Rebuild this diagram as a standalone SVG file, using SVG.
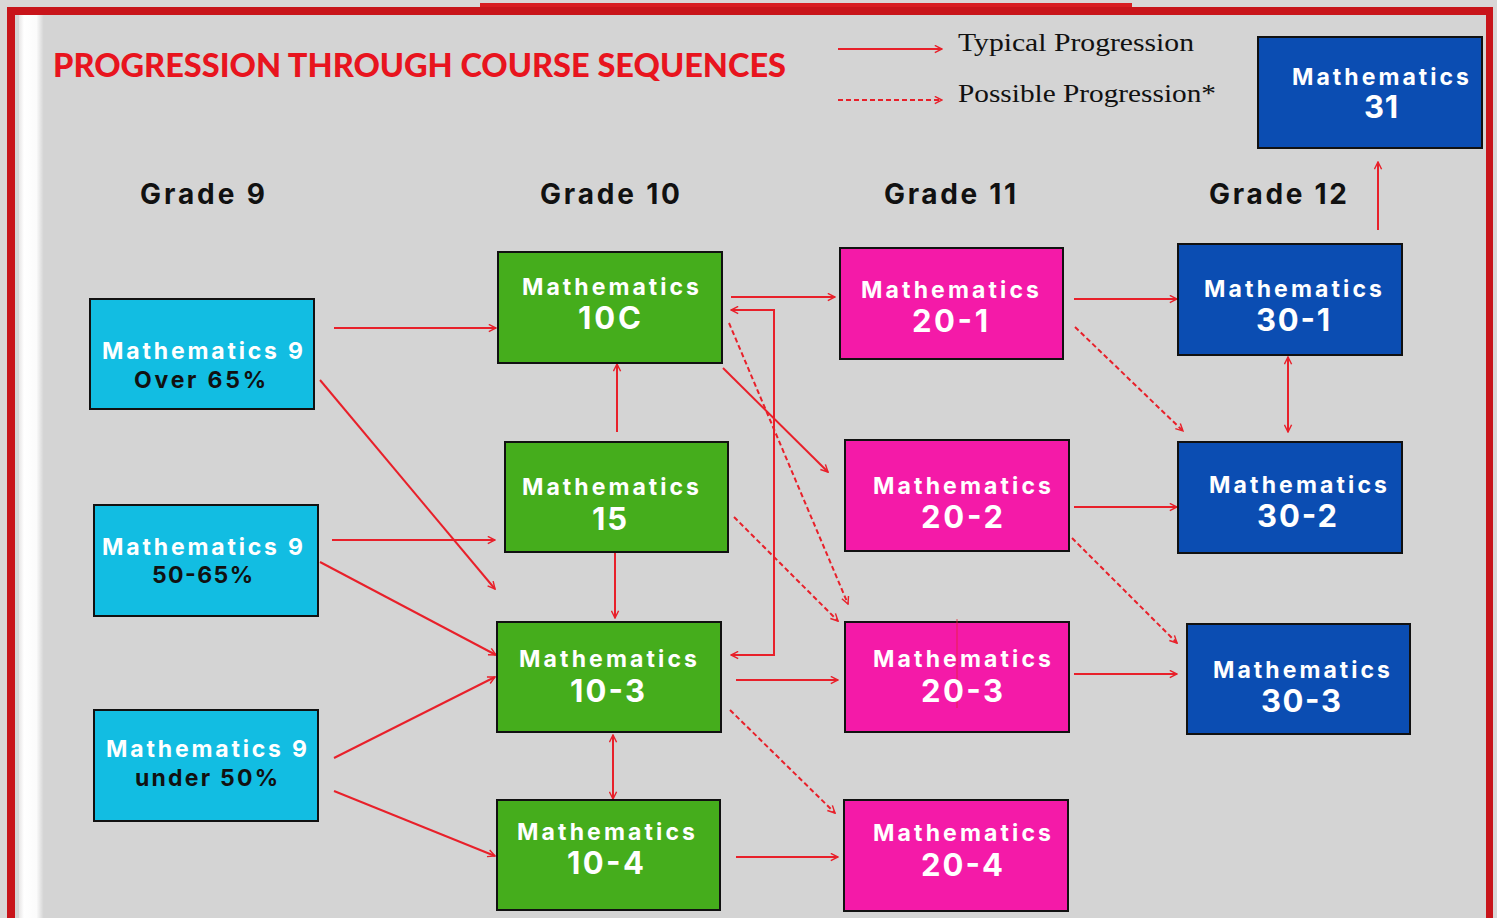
<svg xmlns="http://www.w3.org/2000/svg" width="1497" height="918" viewBox="0 0 1497 918">
<defs>
<linearGradient id="strip" x1="0" x2="1" y1="0" y2="0">
<stop offset="0" stop-color="#e8e6e6"/>
<stop offset="0.2" stop-color="#ffffff"/>
<stop offset="0.7" stop-color="#fbfbfb"/>
<stop offset="1" stop-color="#d2d2d2"/>
</linearGradient>
<marker id="ah" viewBox="0 0 10 10" refX="9" refY="5" markerWidth="9" markerHeight="9" markerUnits="userSpaceOnUse" orient="auto-start-reverse">
<path d="M1,1 L9,5 L1,9" fill="none" stroke="#e8202a" stroke-width="1.6"/>
</marker>
<style>
.box{stroke:#111;stroke-width:2}
.cy{fill:#12bde2}.gr{fill:#45ad1c}.pk{fill:#f41aa8}.bl{fill:#0b4db2}
.t1{font-family:Inter,"Open Sans","Liberation Sans",sans-serif;font-weight:700;font-size:23px;fill:#fff;text-anchor:middle}
.t2{font-family:Inter,"Open Sans","Liberation Sans",sans-serif;font-weight:700;font-size:31px;fill:#fff;text-anchor:middle}
.t3{font-family:Inter,"Open Sans","Liberation Sans",sans-serif;font-weight:700;font-size:23px;fill:#111;text-anchor:middle}
.gh{font-family:Inter,"Open Sans","Liberation Sans",sans-serif;font-weight:700;font-size:28px;fill:#111;text-anchor:middle}
.lg{font-family:"Liberation Serif","DejaVu Serif",serif;font-size:26px;fill:#111}
.c{fill:none;stroke:#e8202a;stroke-width:2}
.d{stroke-dasharray:5,3}
</style>
</defs>
<rect x="0" y="0" width="1497" height="918" fill="#d9d6d6"/>
<rect x="15" y="15" width="1472" height="903" fill="#d4d4d4"/>
<rect x="19" y="15" width="25" height="903" fill="url(#strip)"/>
<rect x="480" y="3" width="652" height="6" fill="#d81c20"/>
<rect x="7" y="7" width="1486" height="8" fill="#c8141a"/>
<rect x="7" y="7" width="8" height="911" fill="#c8141a"/>
<rect x="1486" y="7" width="7" height="911" fill="#c8141a"/>

<text x="53" y="77" font-family="Lato,Inter,'Liberation Sans',sans-serif" font-weight="900" font-size="32" fill="#e8141e" textLength="733" lengthAdjust="spacingAndGlyphs">PROGRESSION THROUGH COURSE SEQUENCES</text>

<g id="legend">
<line class="c" x1="838" y1="49" x2="942" y2="49" marker-end="url(#ah)"/>
<line class="c d" x1="838" y1="100" x2="942" y2="100" marker-end="url(#ah)"/>
<text class="lg" x="958" y="51" textLength="236" lengthAdjust="spacingAndGlyphs">Typical Progression</text>
<text class="lg" x="958" y="102" textLength="258" lengthAdjust="spacingAndGlyphs">Possible Progression*</text>
</g>

<g id="headers">
<text class="gh" x="202.5" y="204" textLength="125" lengthAdjust="spacing">Grade 9</text>
<text class="gh" x="610" y="204" textLength="140" lengthAdjust="spacing">Grade 10</text>
<text class="gh" x="950" y="204" textLength="132" lengthAdjust="spacing">Grade 11</text>
<text class="gh" x="1278" y="204" textLength="138" lengthAdjust="spacing">Grade 12</text>
</g>

<g id="connectors">
<line class="c" x1="334" y1="328" x2="496" y2="328" marker-end="url(#ah)"/>
<line class="c" x1="320" y1="380" x2="495" y2="589" marker-end="url(#ah)"/>
<line class="c" x1="332" y1="540" x2="495" y2="540" marker-end="url(#ah)"/>
<line class="c" x1="320" y1="562" x2="496" y2="655" marker-end="url(#ah)"/>
<line class="c" x1="334" y1="758" x2="495" y2="677" marker-end="url(#ah)"/>
<line class="c" x1="334" y1="791" x2="495" y2="856" marker-end="url(#ah)"/>
<line class="c" x1="617" y1="432" x2="617" y2="364" marker-end="url(#ah)"/>
<line class="c" x1="615" y1="550" x2="615" y2="618" marker-end="url(#ah)"/>
<line class="c" x1="613" y1="735" x2="613" y2="799" marker-start="url(#ah)" marker-end="url(#ah)"/>
<line class="c" x1="731" y1="297" x2="835" y2="297" marker-end="url(#ah)"/>
<path class="c" d="M731,310 H774 V655 H731" marker-start="url(#ah)" marker-end="url(#ah)"/>
<line class="c" x1="723" y1="368" x2="828" y2="472" marker-end="url(#ah)"/>
<line class="c" x1="736" y1="680" x2="838" y2="680" marker-end="url(#ah)"/>
<line class="c" x1="736" y1="857" x2="838" y2="857" marker-end="url(#ah)"/>
<line class="c" x1="1074" y1="299" x2="1177" y2="299" marker-end="url(#ah)"/>
<line class="c" x1="1074" y1="507" x2="1177" y2="507" marker-end="url(#ah)"/>
<line class="c" x1="1074" y1="674" x2="1177" y2="674" marker-end="url(#ah)"/>
<line class="c" x1="1288" y1="357" x2="1288" y2="432" marker-start="url(#ah)" marker-end="url(#ah)"/>
<line class="c" x1="1378" y1="230" x2="1378" y2="162" marker-end="url(#ah)"/>
<line class="c d" x1="729" y1="323" x2="848" y2="604" marker-end="url(#ah)"/>
<line class="c d" x1="734" y1="517" x2="838" y2="621" marker-end="url(#ah)"/>
<line class="c d" x1="730" y1="710" x2="835" y2="813" marker-end="url(#ah)"/>
<line class="c d" x1="1075" y1="327" x2="1183" y2="431" marker-end="url(#ah)"/>
<line class="c d" x1="1072" y1="538" x2="1177" y2="643" marker-end="url(#ah)"/>
</g>

<g id="n9over65">
<rect class="box cy" x="90" y="299" width="224" height="110"/>
<text class="t1" x="202.5" y="359" textLength="201" lengthAdjust="spacing">Mathematics 9</text>
<text class="t3" x="200" y="388" textLength="132" lengthAdjust="spacing">Over 65%</text>
</g>
<g id="n9mid">
<rect class="box cy" x="94" y="505" width="224" height="111"/>
<text class="t1" x="202.5" y="555" textLength="201" lengthAdjust="spacing">Mathematics 9</text>
<text class="t3" x="202.5" y="583" textLength="101" lengthAdjust="spacing">50-65%</text>
</g>
<g id="n9under50">
<rect class="box cy" x="94" y="710" width="224" height="111"/>
<text class="t1" x="206.5" y="757" textLength="201" lengthAdjust="spacing">Mathematics 9</text>
<text class="t3" x="206.5" y="786" textLength="143" lengthAdjust="spacing">under 50%</text>
</g>

<g id="n10c">
<rect class="box gr" x="498" y="252" width="224" height="111"/>
<text class="t1" x="610.5" y="295" textLength="177" lengthAdjust="spacing">Mathematics</text>
<text class="t2" x="609.5" y="329" textLength="63" lengthAdjust="spacing">10C</text>
</g>
<g id="n15">
<rect class="box gr" x="505" y="442" width="223" height="110"/>
<text class="t1" x="610.5" y="495" textLength="177" lengthAdjust="spacing">Mathematics</text>
<text class="t2" x="609.5" y="530" textLength="35" lengthAdjust="spacing">15</text>
</g>
<g id="n103">
<rect class="box gr" x="497" y="622" width="224" height="110"/>
<text class="t1" x="608" y="667" textLength="178" lengthAdjust="spacing">Mathematics</text>
<text class="t2" x="607.5" y="702" textLength="75" lengthAdjust="spacing">10-3</text>
</g>
<g id="n104">
<rect class="box gr" x="497" y="800" width="223" height="110"/>
<text class="t1" x="606" y="840" textLength="178" lengthAdjust="spacing">Mathematics</text>
<text class="t2" x="605.5" y="874" textLength="77" lengthAdjust="spacing">10-4</text>
</g>

<g id="n201">
<rect class="box pk" x="840" y="248" width="223" height="111"/>
<text class="t1" x="950" y="298" textLength="178" lengthAdjust="spacing">Mathematics</text>
<text class="t2" x="950" y="332" textLength="76" lengthAdjust="spacing">20-1</text>
</g>
<g id="n202">
<rect class="box pk" x="845" y="440" width="224" height="111"/>
<text class="t1" x="962" y="494" textLength="178" lengthAdjust="spacing">Mathematics</text>
<text class="t2" x="962" y="528" textLength="82" lengthAdjust="spacing">20-2</text>
</g>
<g id="n203">
<rect class="box pk" x="845" y="622" width="224" height="110"/>
<line x1="957" y1="619" x2="957" y2="708" stroke="#e8202a" stroke-width="1" opacity="0.7"/>
<text class="t1" x="962" y="667" textLength="178" lengthAdjust="spacing">Mathematics</text>
<text class="t2" x="962" y="702" textLength="82" lengthAdjust="spacing">20-3</text>
</g>
<g id="n204">
<rect class="box pk" x="844" y="800" width="224" height="111"/>
<text class="t1" x="962" y="841" textLength="178" lengthAdjust="spacing">Mathematics</text>
<text class="t2" x="962" y="876" textLength="82" lengthAdjust="spacing">20-4</text>
</g>

<g id="n301">
<rect class="box bl" x="1178" y="244" width="224" height="111"/>
<text class="t1" x="1293" y="297" textLength="178" lengthAdjust="spacing">Mathematics</text>
<text class="t2" x="1293" y="331" textLength="74" lengthAdjust="spacing">30-1</text>
</g>
<g id="n302">
<rect class="box bl" x="1178" y="442" width="224" height="111"/>
<text class="t1" x="1298" y="493" textLength="178" lengthAdjust="spacing">Mathematics</text>
<text class="t2" x="1297" y="527" textLength="80" lengthAdjust="spacing">30-2</text>
</g>
<g id="n303">
<rect class="box bl" x="1187" y="624" width="223" height="110"/>
<text class="t1" x="1301.5" y="678" textLength="177" lengthAdjust="spacing">Mathematics</text>
<text class="t2" x="1301" y="712" textLength="80" lengthAdjust="spacing">30-3</text>
</g>
<g id="n31">
<rect class="box bl" x="1258" y="37" width="224" height="111"/>
<text class="t1" x="1380.5" y="85" textLength="177" lengthAdjust="spacing">Mathematics</text>
<text class="t2" x="1381" y="118" textLength="34" lengthAdjust="spacing">31</text>
</g>
</svg>
